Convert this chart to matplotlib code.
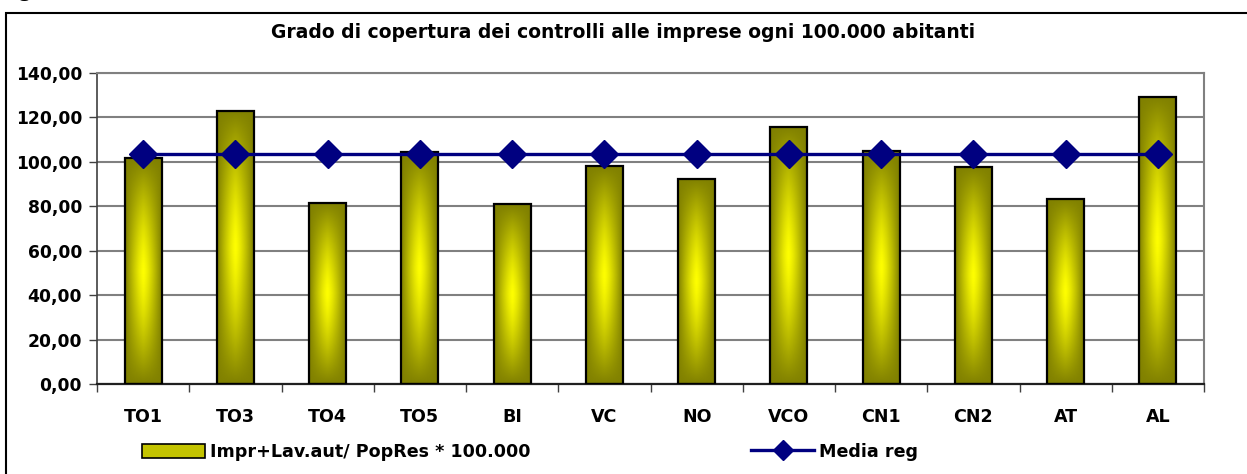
import matplotlib
matplotlib.use('Agg')
import matplotlib.pyplot as plt
import numpy as np
from matplotlib.patches import Rectangle, Patch
from matplotlib.lines import Line2D
from matplotlib.ticker import FuncFormatter, FixedLocator

asl = ['TO1', 'TO3', 'TO4', 'TO5', 'BI', 'VC', 'NO', 'VCO', 'CN1', 'CN2', 'AT', 'AL']
copertura = [101.5, 122.9, 81.5, 104.2, 80.8, 98.0, 92.2, 115.6, 104.8, 97.7, 83.2, 129.2]
media_reg = [103.3] * len(asl)
yticks = [0, 20, 40, 60, 80, 100, 120, 140]

title = 'Grado di copertura dei controlli alle imprese ogni 100.000 abitanti'
label_bar = 'Impr+Lav.aut/ PopRes * 100.000'
label_line = 'Media reg'

plt.rcParams['font.family'] = ['DejaVu Sans']
plt.rcParams['font.weight'] = 'bold'

olive = np.array([128, 128, 0]) / 255.0
yellow = np.array([255, 255, 0]) / 255.0
navy = '#000080'


def gradient(nx=40, ny=200):
    xs = np.linspace(0, 1, nx)
    ys = np.linspace(0, 1, ny)
    gx = 1 - np.abs(2 * xs - 1) ** 1.3
    gy = 1 - np.abs(2 * ys - 1) ** 1.4
    t = np.outer(gy, gx)[..., None]
    return olive * (1 - t) + yellow * t


grad = gradient()

fig = plt.figure(figsize=(12.47, 4.74), dpi=100)
ax = fig.add_axes([97 / 1247, 1 - 384 / 474, (1204 - 97) / 1247, (384 - 72.7) / 474])

x = np.arange(len(asl))
w = 0.4
ax.set_xlim(-0.5, len(asl) - 0.5)
ax.set_ylim(0, 140)
for xi, v in zip(x, copertura):
    ax.imshow(grad, extent=(xi - w / 2, xi + w / 2, 0, v), aspect='auto',
              origin='lower', zorder=2, interpolation='bilinear')
ax.bar(x, copertura, width=w, facecolor='none', edgecolor='black', linewidth=1.6, zorder=3)
ax.plot(x, media_reg, color=navy, linewidth=2.4, marker='D', markersize=14,
        markeredgecolor=navy, zorder=4)

ax.set_yticks(yticks)
ax.yaxis.set_major_formatter(FuncFormatter(lambda v, p: ('%.2f' % v).replace('.', ',')))
ax.grid(axis='y', color='#808080', linewidth=1.5, zorder=0)
ax.set_axisbelow(True)
ax.set_xticks(x)
ax.set_xticklabels(asl)
ax.xaxis.set_minor_locator(FixedLocator(np.arange(-0.5, len(asl), 1.0)))
ax.tick_params(axis='x', which='major', length=0, pad=17, labelsize=12.6)
ax.tick_params(axis='x', which='minor', length=6, direction='out', color='#404040', width=1)
ax.tick_params(axis='y', length=6, width=1, color='#404040', pad=4.8, labelsize=12.3)

for s in ['top', 'right']:
    ax.spines[s].set_color('#808080')
    ax.spines[s].set_linewidth(1.5)
ax.spines['left'].set_color('#404040')
ax.spines['left'].set_linewidth(1.2)
ax.spines['bottom'].set_color('#202020')
ax.spines['bottom'].set_linewidth(1.6)

fig.text(0.4996, 1 - 33 / 474, title, ha='center', va='center', fontsize=13.5, fontweight='bold')

# outer chart frame
fig.patches.append(Rectangle((6 / 1247, -0.05), 1.1, 1 - 13 / 474 + 0.05, transform=fig.transFigure,
                             fill=False, edgecolor='black', linewidth=1.5))
fig.text(18 / 1247, 1.02, 'g', ha='left', va='center', fontsize=16, fontweight='bold',
         family='Liberation Serif')

handles = [Patch(facecolor='#c4c400', edgecolor='black', linewidth=1.2),
           Line2D([0], [0], color=navy, linewidth=2.4, marker='D', markersize=10)]
fig.legend(handles, [label_bar, label_line], loc='center left', bbox_to_anchor=(126 / 1247, 1 - 452 / 474),
           ncol=2, frameon=False, fontsize=12.6, handlelength=3.6, handleheight=0.9, handletextpad=0.3,
           columnspacing=12.6)

fig.savefig('out.png', dpi=100)
